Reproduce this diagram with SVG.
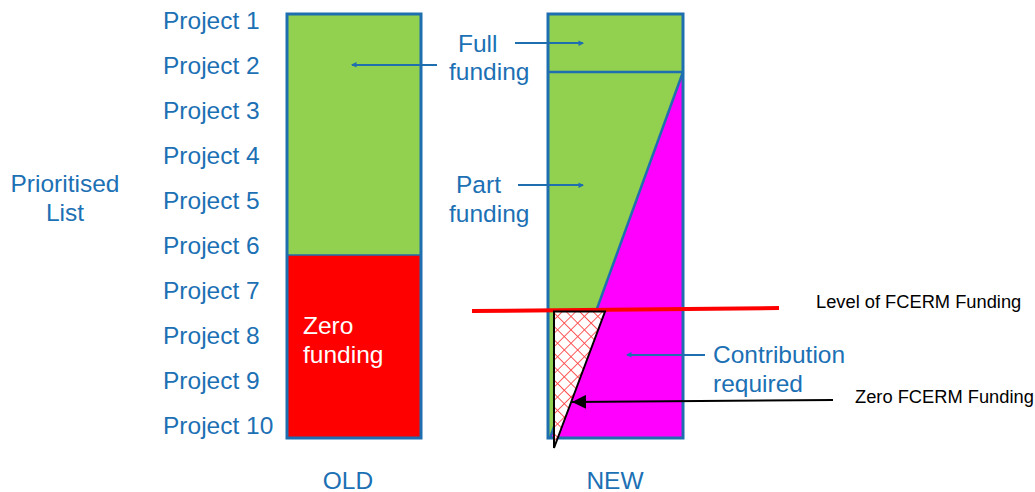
<svg xmlns="http://www.w3.org/2000/svg" width="1035" height="492" viewBox="0 0 1035 492">
<style>
.t{font-family:"Liberation Sans",Arial,sans-serif;font-size:24.5px;fill:#1C70B4}
.w{fill:#ffffff}
.k{font-family:"Liberation Sans",Arial,sans-serif;font-size:18.3px;fill:#000000}
.box{stroke:#1F6EB0;stroke-width:3}
.ba{stroke:#1F6EB0;stroke-width:2;fill:none;marker-end:url(#ab)}
</style>
<defs>
<marker id="ab" viewBox="0 0 10 10" refX="9" refY="5" markerWidth="5" markerHeight="5" orient="auto" markerUnits="userSpaceOnUse" style="overflow:visible">
<path d="M0,0 L10,5 L0,10 z" fill="#1F6EB0" transform="scale(1.1)"/>
</marker>
<marker id="ak" viewBox="0 0 14 14" refX="14" refY="7" markerWidth="14" markerHeight="14" orient="auto" markerUnits="userSpaceOnUse">
<path d="M0,0 L14,7 L0,14 z" fill="#000000"/>
</marker>
<pattern id="hatch" width="9.5" height="9.5" patternUnits="userSpaceOnUse" patternTransform="rotate(45)">
<rect width="9.5" height="9.5" fill="#ffffff"/>
<path d="M0,0 H9.5 M0,0 V9.5" stroke="#FF4D4D" stroke-width="1.8"/>
</pattern>
</defs>

<g id="projects">
<text class="t" x="163" y="29">Project 1</text>
<text class="t" x="163" y="74">Project 2</text>
<text class="t" x="163" y="119">Project 3</text>
<text class="t" x="163" y="164">Project 4</text>
<text class="t" x="163" y="209">Project 5</text>
<text class="t" x="163" y="254">Project 6</text>
<text class="t" x="163" y="299">Project 7</text>
<text class="t" x="163" y="344">Project 8</text>
<text class="t" x="163" y="389">Project 9</text>
<text class="t" x="163" y="434">Project 10</text>
</g>

<g id="prioritised">
<text class="t" x="65" y="192" text-anchor="middle">Prioritised</text>
<text class="t" x="65" y="221" text-anchor="middle">List</text>
</g>

<g id="old">
<rect x="287" y="14" width="134" height="241" fill="#92D050"/>
<rect x="287" y="255" width="134" height="183" fill="#FF0000"/>
<line x1="287" y1="255" x2="421" y2="255" stroke="#1F6EB0" stroke-width="1.5"/>
<rect class="box" x="287" y="14" width="134" height="424" fill="none"/>
<text class="t w" x="303" y="334">Zero</text>
<text class="t w" x="303" y="363">funding</text>
<text class="t" x="348" y="488.5" text-anchor="middle">OLD</text>
</g>

<g id="new">
<rect x="548" y="14" width="135" height="58" fill="#92D050"/>
<polygon points="548,72 683,72 550,438 548,438" fill="#92D050"/>
<polygon points="683,72 683,438 550,438" fill="#FF00FF"/>
<line x1="683" y1="72" x2="550" y2="438" stroke="#1F6EB0" stroke-width="2.5"/>
<line x1="548" y1="72" x2="683" y2="72" stroke="#1F6EB0" stroke-width="2.5"/>
<rect class="box" x="548" y="14" width="135" height="424" fill="none"/>
<text class="t" x="615" y="488.5" text-anchor="middle">NEW</text>
</g>

<g id="labels">
<text class="t" x="458" y="52">Full</text>
<text class="t" x="449" y="80">funding</text>
<text class="t" x="456" y="193">Part</text>
<text class="t" x="449" y="222">funding</text>
<text class="t" x="713" y="363">Contribution</text>
<text class="t" x="713" y="392">required</text>
<text class="k" x="816" y="308">Level of FCERM Funding</text>
<text class="k" x="855" y="403">Zero FCERM Funding</text>
</g>

<g id="connectors">
<line x1="472" y1="311" x2="779" y2="308" stroke="#FF0000" stroke-width="4"/>
<line class="ba" x1="437" y1="65" x2="352" y2="65"/>
<line class="ba" x1="515" y1="43" x2="583" y2="43"/>
<line class="ba" x1="518" y1="185" x2="583" y2="185"/>
<line class="ba" x1="705" y1="355" x2="627" y2="355"/>
</g>

<g id="zero-fcerm">
<polygon points="554,311.5 605,311.5 554,448" fill="url(#hatch)" stroke="#000000" stroke-width="2" stroke-linejoin="miter"/>
</g>

<g id="zero-arrow">
<line x1="833" y1="400" x2="572" y2="402" stroke="#000000" stroke-width="2" marker-end="url(#ak)"/>
</g>
</svg>
